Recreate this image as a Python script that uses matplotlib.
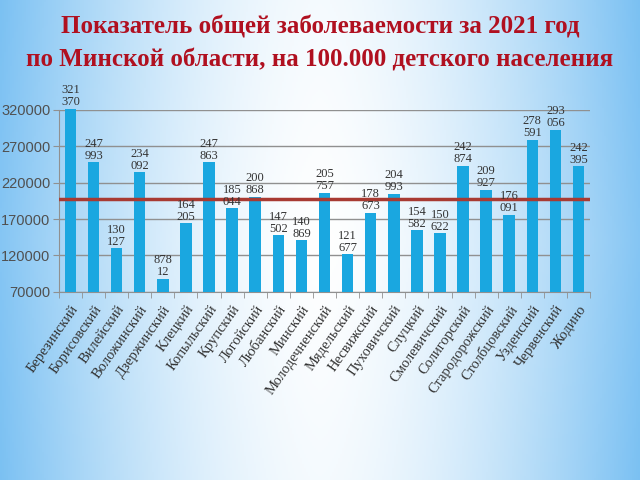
import numpy as np
import matplotlib
matplotlib.use("Agg")
import matplotlib.pyplot as plt

districts = ["Березинский", "Борисовский", "Вилейский", "Воложинский", "Дзержинский",
             "Клецкий", "Копыльский", "Крупский", "Логойский", "Любанский", "Минский",
             "Молодечненский", "Мядельский", "Несвижский", "Пуховичский", "Слуцкий",
             "Смолевичский", "Солигорский", "Стародорожский", "Столбцовский",
             "Узденский", "Червенский", "Жодино"]
values = [321370, 247993, 130127, 234092, 87812, 164205, 247863, 185044, 200868,
          147502, 140869, 205757, 121677, 178673, 204993, 154582, 150622, 242874,
          209927, 176091, 278591, 293056, 242395]
average = 197500
yticks = [70000, 120000, 170000, 220000, 270000, 320000]
ylo = yticks[0]

fig = plt.figure(figsize=(6.4, 4.8), dpi=100)

# background gradient
bg = fig.add_axes([0, 0, 1, 1], zorder=-10)
gx, gy = np.meshgrid(np.linspace(0, 1, 320), np.linspace(0, 1, 240))
t = np.clip((np.abs(gx - 0.5) * 2) ** 1.6 * 0.9 + np.abs(gy - 0.5) * 0.15, 0, 1)
blue = np.array([0.47, 0.75, 0.95])
white = np.array([1.0, 1.0, 1.0])
img = white * (1 - t[..., None]) + blue * t[..., None]
bg.imshow(img, extent=[0, 1, 0, 1], aspect="auto", origin="lower")
bg.axis("off")

ax = fig.add_axes([0.092, 0.392, 0.83, 0.379])
ax.patch.set_alpha(0)
x = np.arange(len(values))
ax.bar(x, np.array(values) - ylo, bottom=ylo, width=0.5, color="#1aa7e0",
       zorder=3, clip_on=False)
ax.axhline(average, color="#a83a32", lw=2.5, zorder=4)

# labels wrap after the first three digits, as on the slide
for xi, v in zip(x, values):
    s = str(v)
    ax.text(xi, v + 800, s[:3] + "\n" + s[3:], ha="center", va="bottom",
            fontsize=9, family="Liberation Serif", color="#333333",
            linespacing=1.0, zorder=5)

ax.set_xlim(-0.5, len(values) - 0.5)
ax.set_ylim(ylo, 320000)
ax.set_yticks(yticks)
ax.set_yticklabels([str(v) for v in yticks], fontsize=10.5, color="#505050",
                   family="Liberation Sans")
ax.yaxis.grid(True, color="#909090", lw=1)
ax.set_axisbelow(True)

ax.set_xticks(x)
ax.set_xticklabels(districts, rotation=55, ha="right", rotation_mode="anchor",
                   fontsize=10.5, family="Liberation Serif", color="#333333")
ax.tick_params(axis="x", length=0, pad=8)
ax.set_xticks(np.arange(-0.5, len(values), 1), minor=True)
ax.tick_params(axis="x", which="minor", length=4, color="#909090")
ax.tick_params(axis="y", length=4, color="#909090", pad=2)

for side in ["top", "right"]:
    ax.spines[side].set_visible(False)
ax.spines["left"].set_color("#909090")
ax.spines["bottom"].set_color("#909090")

fig.text(0.5, 0.944, "Показатель общей заболеваемости за 2021 год", ha="center",
         va="center", fontsize=18, fontweight="bold", family="Liberation Serif",
         color="#b01020")
fig.text(0.5, 0.875, "по Минской области, на 100.000 детского населения", ha="center",
         va="center", fontsize=18, fontweight="bold", family="Liberation Serif",
         color="#b01020")

fig.savefig("out.png", dpi=100)
